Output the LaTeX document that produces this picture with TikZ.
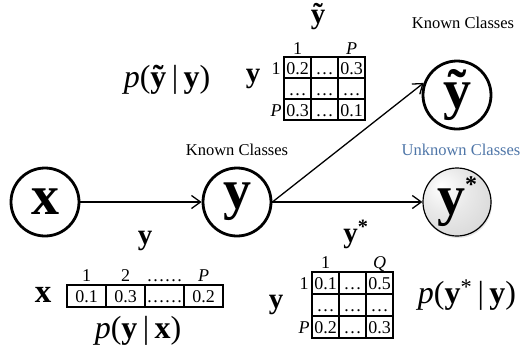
\documentclass[tikz,border=0pt]{standalone}
\usepackage{fontspec}
\setmainfont{Liberation Serif}
\usetikzlibrary{arrows.meta,shadows}
\definecolor{unk}{RGB}{79,118,168}
\pgfdeclareradialshading{greyball}{\pgfpoint{-12bp}{12bp}}{color(0bp)=(white); color(18bp)=(gray!18); color(45bp)=(gray!38); color(60bp)=(gray!40)}
\begin{document}
\begin{tikzpicture}[x=1pt,y=-1pt,
  circ/.style={circle,draw,line width=2.8pt,minimum size=68pt,inner sep=0pt,font=\fontsize{56}{60}\selectfont\bfseries},
  arr/.style={-{Straight Barb[length=9pt,width=13pt]},line width=1.3pt},
  lbl/.style={font=\fontsize{16.5}{18}\selectfont,inner sep=0pt},
  cell/.style={font=\fontsize{18}{20}\selectfont,inner sep=0pt,anchor=base},
  mid/.style={font=\fontsize{29}{30}\selectfont\bfseries,inner sep=0pt},
  prob/.style={font=\fontsize{32}{34}\selectfont,inner sep=0pt},
  gridln/.style={line width=1.2pt},
]
\useasboundingbox (0,0) rectangle (523,360);

% circles
\node[circ] (x) at (45,202) {x};
\node[circ] (y) at (237,202) {y};
\node[circ] (yt) at (457,95) {ỹ};
\node[circ,line width=1.2pt,shading=greyball,drop shadow={opacity=0.2,shadow xshift=1pt,shadow yshift=-2pt}] (ys) at (457,202) {y\raisebox{22pt}{\fontsize{24}{24}\selectfont *}};

% class labels
\node[lbl] (kc1) at (463,23) {Known Classes};
\node[lbl] (kc2) at (237,150) {Known Classes};
\node[lbl,text=unk] (uc) at (461,150) {Unknown Classes};

% arrows
\draw[arr] (x) -- (y);
\draw[arr] (y.east) -- (yt.160);
\draw[arr] (y.east) -- (ys.west);

% top matrix  p(ytilde | y)
\node[prob] (pty) at (167,80) {\textit{p}(\textbf{ỹ}\,|\,\textbf{y})};
\node[mid] (tylab) at (253,79) {y};
\node[mid] (tytop) at (318,17) {ỹ};
\begin{scope}[shift={(284,57)}]
  \draw[gridln] (0,0) rectangle (81,63);
  \draw[gridln] (27,0) -- (27,63) (54,0) -- (54,63) (0,21) -- (81,21) (0,42) -- (81,42);
  \node[cell] (tc1) at (13.5,-3) {1};
  \node[cell] (tcP) at (67.5,-3) {\textit{P}};
  \node[cell] (tr1) at (-8,17) {1};
  \node[cell] (trP) at (-8,59) {\textit{P}};
  \node[cell] (t11) at (13.5,17) {0.2};
  \node[cell] (t12) at (40.5,17) {…};
  \node[cell] (t13) at (67.5,17) {0.3};
  \node[cell] (t21) at (13.5,38) {…};
  \node[cell] (t22) at (40.5,38) {…};
  \node[cell] (t23) at (67.5,38) {…};
  \node[cell] (t31) at (13.5,59) {0.3};
  \node[cell] (t32) at (40.5,59) {…};
  \node[cell] (t33) at (67.5,59) {0.1};
\end{scope}

% bottom vector p(y | x)
\node[mid] (vylab) at (145,241) {y};
\node[mid,font=\fontsize{33}{34}\selectfont\bfseries] (vxlab) at (43,295) {x};
\node[prob] (pyx) at (138,331) {\textit{p}(\textbf{y}\,|\,\textbf{x})};
\begin{scope}[shift={(67,285)}]
  \draw[gridln] (0,0) rectangle (156,22);
  \draw[gridln] (39,0) -- (39,22) (78,0) -- (78,22) (117,0) -- (117,22);
  \node[cell] (vc1) at (19.5,-4) {1};
  \node[cell] (vc2) at (58.5,-4) {2};
  \node[cell] (vc3) at (97.5,-4) {……};
  \node[cell] (vcP) at (136.5,-4) {\textit{P}};
  \node[cell] (v1) at (19.5,17) {0.1};
  \node[cell] (v2) at (58.5,17) {0.3};
  \node[cell] (v3) at (97.5,17) {……};
  \node[cell] (v4) at (136.5,17) {0.2};
\end{scope}

% bottom-right matrix p(y* | y)
\node[mid] (sylab) at (356,234) {y\textsuperscript{*}};
\node[mid] (sleft) at (276,305) {y};
\node[prob] (psy) at (467,295) {\textit{p}(\textbf{y}\textsuperscript{*}\,|\,\textbf{y})};
\begin{scope}[shift={(312,272)}]
  \draw[gridln] (0,0) rectangle (81,66);
  \draw[gridln] (27,0) -- (27,66) (54,0) -- (54,66) (0,22) -- (81,22) (0,44) -- (81,44);
  \node[cell] (sc1) at (13.5,-4) {1};
  \node[cell] (scQ) at (67.5,-4) {\textit{Q}};
  \node[cell] (sr1) at (-8,17) {1};
  \node[cell] (srP) at (-8,61) {\textit{P}};
  \node[cell] (s11) at (13.5,17) {0.1};
  \node[cell] (s12) at (40.5,17) {…};
  \node[cell] (s13) at (67.5,17) {0.5};
  \node[cell] (s21) at (13.5,39) {…};
  \node[cell] (s22) at (40.5,39) {…};
  \node[cell] (s23) at (67.5,39) {…};
  \node[cell] (s31) at (13.5,61) {0.2};
  \node[cell] (s32) at (40.5,61) {…};
  \node[cell] (s33) at (67.5,61) {0.3};
\end{scope}
\end{tikzpicture}
\end{document}
